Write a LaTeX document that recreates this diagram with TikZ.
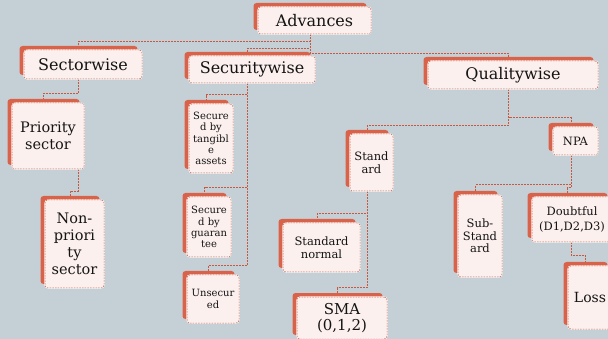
\documentclass[tikz,border=0pt]{standalone}
\usepackage{fontspec}
\setmainfont{DejaVu Serif}
\usetikzlibrary{shadows,calc}
\definecolor{bg}{HTML}{C5D0D6}
\definecolor{boxfill}{HTML}{FBF0EE}
\definecolor{shade}{HTML}{D8634A}
\definecolor{edge}{HTML}{D06650}
\definecolor{linkc}{HTML}{C95840}
\pgfdeclarelayer{back}
\pgfdeclarelayer{links}
\pgfsetlayers{back,links,main}
\begin{document}
\begin{tikzpicture}[x=1pt,y=-1pt,
  card/.style={rectangle, rounded corners=3pt, fill=boxfill, inner sep=0pt,
    align=center, text=black!92,
    general shadow={fill=shade, shadow xshift=-4.5pt, shadow yshift=4pt},
    preaction={draw=white, solid, line width=1.1pt},
    draw=edge, line width=0.5pt, dash pattern=on 1.5pt off 1.2pt},
  wh/.style 2 args={minimum width=#1pt, minimum height=#2pt},
  fbig/.style={font=\fontsize{16}{18}\selectfont},
  fmid/.style={font=\fontsize{14.5}{17}\selectfont},
  fsma/.style={font=\fontsize{15}{15.5}\selectfont},
  fstd/.style={font=\fontsize{11.5}{12.5}\selectfont},
  fdbt/.style={font=\fontsize{11.5}{15}\selectfont},
  floss/.style={font=\fontsize{14}{16}\selectfont},
  ftiny/.style={font=\fontsize{10}{11.2}\selectfont},
  linkline/.style={draw=linkc, line width=0.75pt, dash pattern=on 2pt off 1pt},
]
\useasboundingbox (0,0) rectangle (608,339);
\begin{pgfonlayer}{back}
  \fill[bg] (0,0) rectangle (608,339);
\end{pgfonlayer}

% top level
\node[card, wh={113}{27}, fbig] (adv) at (314.5,20.5) {Advances};
\node[card, wh={118}{29}, fbig] (sec) at (83,64.5) {Sectorwise};
\node[card, wh={126}{27}, fbig] (secu) at (252,69.5) {Securitywise};
\node[card, wh={170}{28}, fbig] (qual) at (513,75) {Qualitywise};

% sector branch
\node[card, wh={72}{66}, fmid] (prio) at (48,136) {Priority\\sector};
\node[card, wh={59}{88}, fmid] (nonp) at (74.5,244) {Non-\\priori\\ty\\sector};

% security branch
\node[card, wh={44}{69}, ftiny] (tang) at (211,138.5) {Secure\\d by\\tangibl\\e\\assets};
\node[card, wh={44}{60}, ftiny] (guar) at (209,227) {Secure\\d by\\guaran\\tee};
\node[card, wh={52}{48}, ftiny] (unsec) at (213,299) {Unsecur\\ed};

% quality branch
\node[card, wh={43}{57}, fstd] (stand) at (371.5,162.5) {Stand\\ard};
\node[card, wh={45}{28}, fstd] (npa) at (575.5,141) {NPA};
\node[card, wh={77}{49}, fstd] (snorm) at (321.5,247.5) {Standard\\normal};
\node[card, wh={90}{42}, fsma] (sma) at (342,318) {SMA\\(0,1,2)};
\node[card, wh={44}{82}, fstd] (sub) at (480,236) {Sub-\\Stand\\ard};
\node[card, wh={80}{45}, fdbt] (doubt) at (572,219.5) {Doubtful\\(D1,D2,D3)};
\node[card, wh={44}{63}, floss] (loss) at (590,297.5) {Loss};

% elbow connectors, attached to the centre of each card's backing shadow
\begin{pgfonlayer}{links}
  \draw[linkline] ($(adv.south)+(-4.5pt,0)$) -- ++(0,7) -| ($(sec.north)+(-4.5pt,4pt)$);
  \draw[linkline] ($(adv.south)+(-4.5pt,0)$) -- ++(0,14) -| ($(secu.north)+(-4.5pt,4pt)$);
  \draw[linkline] ($(adv.south)+(-4.5pt,0)$) -- ++(0,19) -| ($(qual.north)+(-4.5pt,4pt)$);

  \draw[linkline] ($(sec.south)+(-4.5pt,0)$) -- ++(0,14) -| ($(prio.north)+(-4.5pt,4pt)$);
  \draw[linkline] ($(prio.south)+(30pt,0)$) -- ++(0,22) -| ($(nonp.north)+(-4.5pt,4pt)$);

  \draw[linkline] ($(secu.south)+(-4.5pt,0)$) |- ($(tang.north)+(-4.5pt,9pt)$) -- ($(tang.north)+(-4.5pt,4pt)$);
  \draw[linkline] ($(secu.south)+(-4.5pt,0)$) |- ($(guar.north)+(-4.5pt,9pt)$) -- ($(guar.north)+(-4.5pt,4pt)$);
  \draw[linkline] ($(secu.south)+(-4.5pt,0)$) |- ($(unsec.north)+(-4.5pt,9pt)$) -- ($(unsec.north)+(-4.5pt,4pt)$);

  \draw[linkline] ($(qual.south)+(-4.5pt,0)$) |- ($(stand.north)+(-4.5pt,8pt)$) -- ($(stand.north)+(-4.5pt,4pt)$);
  \draw[linkline] ($(qual.south)+(-4.5pt,0)$) |- ($(npa.north)+(-4.5pt,9pt)$) -- ($(npa.north)+(-4.5pt,4pt)$);

  \draw[linkline] ($(stand.south)+(-4.5pt,0)$) |- ($(snorm.north)+(-4.5pt,9pt)$) -- ($(snorm.north)+(-4.5pt,4pt)$);
  \draw[linkline] ($(stand.south)+(-4.5pt,0)$) |- ($(sma.north)+(-4.5pt,9pt)$) -- ($(sma.north)+(-4.5pt,4pt)$);

  \draw[linkline] ($(npa.south)+(-4.5pt,0)$) |- ($(sub.north)+(-4.5pt,10pt)$) -- ($(sub.north)+(-4.5pt,4pt)$);
  \draw[linkline] ($(npa.south)+(-4.5pt,0)$) |- ($(doubt.north)+(-4.5pt,9pt)$) -- ($(doubt.north)+(-4.5pt,4pt)$);

  \draw[linkline] ($(doubt.south)+(-1pt,0)$) |- ($(loss.north)+(-4.5pt,10pt)$) -- ($(loss.north)+(-4.5pt,4pt)$);
\end{pgfonlayer}
\end{tikzpicture}
\end{document}
